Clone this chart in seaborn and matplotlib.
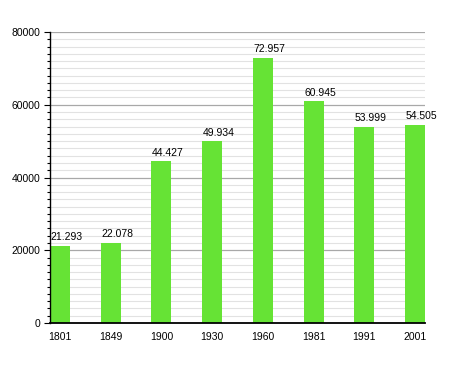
import matplotlib
matplotlib.use("Agg")
import matplotlib.pyplot as plt
import seaborn as sns
import pandas as pd
from matplotlib.ticker import MultipleLocator

years = ["1801", "1849", "1900", "1930", "1960", "1981", "1991", "2001"]
population = [21293, 22078, 44427, 49934, 72957, 60945, 53999, 54505]
labels = ["21.293", "22.078", "44.427", "49.934", "72.957", "60.945", "53.999", "54.505"]

df = pd.DataFrame({"year": years, "pop": population})

sns.set_style("white")
plt.rcParams['font.family'] = ['Liberation Sans', 'DejaVu Sans']
plt.rcParams['text.color'] = 'black'
plt.rcParams['xtick.color'] = 'black'
plt.rcParams['ytick.color'] = 'black'
plt.rcParams['axes.labelcolor'] = 'black'

fig = plt.figure(figsize=(4.55, 3.73), dpi=100)
ax = fig.add_axes([50/455, 1 - 323/373, 375/455, (323-32)/373])

w = 0.394
sns.barplot(data=df, x="year", y="pop", color="#66e335", saturation=1, width=w,
            ax=ax, zorder=3, linewidth=0, edgecolor="none")
ax.set_xlim(-w/2, 7 + w/2)
ax.set_ylim(0, 80000)
ax.yaxis.set_major_locator(MultipleLocator(20000))
ax.yaxis.set_minor_locator(MultipleLocator(2000))
ax.grid(which="major", axis="y", color="#a8a8a8", lw=0.9, zorder=0)
ax.grid(which="minor", axis="y", color="#e2e2e2", lw=0.8, zorder=0)
ax.set_axisbelow(True)
for s in ["top", "right"]:
    ax.spines[s].set_visible(False)
for s in ["left", "bottom"]:
    ax.spines[s].set_color("black")
    ax.spines[s].set_zorder(5)
ax.spines["left"].set_linewidth(1.0)
ax.spines["bottom"].set_linewidth(1.3)
ax.tick_params(axis="y", which="major", left=True, length=4, width=0.8, labelsize=7.5, colors="black", pad=3)
ax.tick_params(axis="y", which="minor", left=True, length=2.5, width=0.8, color="black")
ax.tick_params(axis="x", bottom=False, labelsize=7.5, colors="black", pad=3)
ax.set_xlabel("")
ax.set_ylabel("")
for i, (v, t) in enumerate(zip(population, labels)):
    ax.annotate(t, xy=(i - w/2, v), xytext=(0.5, 3.8), textcoords="offset points",
                ha="left", va="baseline", fontsize=7.5, color="black")

fig.savefig("out.png", dpi=100)
